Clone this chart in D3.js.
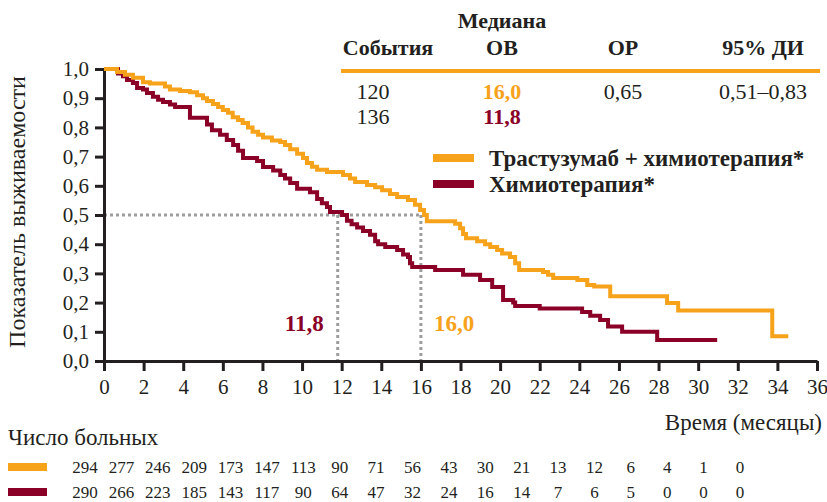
<!DOCTYPE html>
<html>
<head>
<meta charset="utf-8">
<script src="https://cdn.jsdelivr.net/npm/d3@7"></script>
<style>
  body { margin: 0; background: #fff; }
  .axis path, .axis line { stroke: #231f20; stroke-width: 3; }
</style>
</head>
<body>
<svg width="827" height="502"></svg>
<script>
// Kaplan-Meier steps: time (months) -> survival after the step
var timesTrast = [0, 0.66, 1.06, 1.46, 1.97, 2.32, 3.08, 3.33, 3.84, 4.34, 4.70, 5.0, 5.2, 5.5, 5.76, 6.0, 6.26, 6.5, 6.77, 7.0, 7.27, 7.5, 7.78, 8.03, 8.48, 8.9, 9.14, 9.4, 9.75, 10.05, 10.25, 10.5, 10.76, 11.26, 12.07, 12.42, 12.68, 13.28, 13.69, 14.04, 14.44, 14.8, 15.35, 15.7, 15.96, 16.16, 16.3, 17.73, 17.98, 18.13, 18.28, 18.84, 19.24, 19.5, 19.85, 20.1, 20.5, 20.76, 20.96, 22.17, 22.42, 22.68, 23.9, 24.4, 24.75, 25.56, 28.43, 28.99, 33.74, 34.55];
var survTrast  = [1.0, 0.99, 0.98, 0.97, 0.955, 0.95, 0.94, 0.93, 0.925, 0.92, 0.91, 0.90, 0.89, 0.88, 0.87, 0.86, 0.85, 0.835, 0.825, 0.815, 0.80, 0.785, 0.775, 0.765, 0.755, 0.75, 0.74, 0.725, 0.71, 0.695, 0.678, 0.665, 0.655, 0.647, 0.637, 0.625, 0.613, 0.603, 0.595, 0.585, 0.572, 0.562, 0.551, 0.535, 0.517, 0.50, 0.479, 0.47, 0.455, 0.435, 0.42, 0.41, 0.40, 0.39, 0.38, 0.368, 0.356, 0.335, 0.312, 0.305, 0.295, 0.284, 0.277, 0.26, 0.255, 0.222, 0.199, 0.173, 0.085, 0.085];

var timesChemo = [0, 0.71, 0.96, 1.16, 1.46, 1.67, 1.97, 2.17, 2.47, 2.73, 2.98, 3.33, 3.59, 4.34, 5.2, 5.45, 5.86, 6.2, 6.52, 6.77, 7.02, 7.73, 8.03, 8.54, 8.9, 9.14, 9.4, 9.75, 10.4, 10.76, 11.0, 11.26, 11.41, 12.02, 12.27, 12.5, 12.78, 13.08, 13.43, 13.69, 13.84, 14.2, 14.8, 15.1, 15.35, 15.45, 15.56, 16.72, 18.13, 18.99, 19.6, 20.15, 20.66, 20.76, 22.0, 24.14, 24.55, 25.05, 25.45, 26.16, 27.93, 30.96];
var survChemo  = [1.0, 0.985, 0.975, 0.962, 0.952, 0.935, 0.93, 0.918, 0.905, 0.895, 0.887, 0.878, 0.87, 0.833, 0.81, 0.79, 0.775, 0.757, 0.74, 0.72, 0.695, 0.685, 0.664, 0.652, 0.637, 0.625, 0.61, 0.59, 0.578, 0.555, 0.54, 0.527, 0.51, 0.50, 0.48, 0.468, 0.457, 0.445, 0.432, 0.41, 0.40, 0.39, 0.38, 0.365, 0.356, 0.335, 0.322, 0.312, 0.295, 0.277, 0.253, 0.209, 0.20, 0.188, 0.18, 0.168, 0.155, 0.14, 0.118, 0.10, 0.072, 0.072];

var medianTrast = 16.0;
var medianChemo = 11.8;

var xTicks = d3.range(0, 37, 2);
var yTicks = d3.range(0, 11).map(function(d){ return d / 10; });

// number at risk, one value per 2-month tick
var countsTrast = [294, 277, 246, 209, 173, 147, 113, 90, 71, 56, 43, 30, 21, 13, 12, 6, 4, 1, 0];
var countsChemo = [290, 266, 223, 185, 143, 117, 90, 64, 47, 32, 24, 16, 14, 7, 6, 5, 0, 0, 0];

var seriesNames = ['Трастузумаб + химиотерапия*', 'Химиотерапия*'];
var tableHeaders = ['События', 'ОВ', 'ОР', '95% ДИ'];
var tableEvents = ['120', '136'];
var tableMedians = ['16,0', '11,8'];
var tableHR = '0,65';
var tableCI = '0,51–0,83';

var colors = ['#f7a21b', '#8a0026'];
var grey = '#9d9d9d';
var ink = '#231f20';
var serif = '"Liberation Serif", "DejaVu Serif", "Times New Roman", serif';

var svg = d3.select('svg')
    .attr('font-family', serif)
    .attr('fill', ink);

var x = d3.scaleLinear().domain([0, 36]).range([104, 817]);
var y = d3.scaleLinear().domain([0, 1]).range([361, 69]);

var comma = function(d){ return d3.format('.1f')(d).replace('.', ','); };

// all texts go through here so the font is always set
function label(parent, txt, px, py, size, opts) {
    opts = opts || {};
    return parent.append('text')
        .attr('x', px).attr('y', py)
        .attr('font-family', serif)
        .attr('font-size', size)
        .attr('font-weight', opts.bold ? 'bold' : 'normal')
        .attr('text-anchor', opts.anchor || 'start')
        .attr('fill', opts.color || ink)
        .text(txt);
}

// median guide lines
var guides = svg.append('g')
    .attr('stroke', grey)
    .attr('stroke-width', 3)
    .attr('stroke-dasharray', '3,3')
    .attr('fill', 'none');
guides.append('line')
    .attr('x1', x(0)).attr('x2', x(medianTrast))
    .attr('y1', y(0.5)).attr('y2', y(0.5));
[medianChemo, medianTrast].forEach(function(m){
    guides.append('line')
        .attr('x1', x(m)).attr('x2', x(m))
        .attr('y1', y(0.5)).attr('y2', y(0));
});

// axes
var xAxisG = svg.append('g')
    .attr('class', 'axis')
    .attr('transform', 'translate(0,' + y(0) + ')')
    .call(d3.axisBottom(x).tickValues(xTicks).tickSize(10).tickSizeOuter(0).tickPadding(8)
        .tickFormat(d3.format('d')));

var yAxisG = svg.append('g')
    .attr('class', 'axis')
    .attr('transform', 'translate(' + x(0) + ',0)')
    .call(d3.axisLeft(y).tickValues(yTicks).tickSize(9).tickSizeOuter(0).tickPadding(6)
        .tickFormat(comma));

[xAxisG, yAxisG].forEach(function(g){
    g.attr('font-family', serif).attr('font-size', 21);
    g.selectAll('text').attr('font-family', serif).attr('fill', ink);
});

// curves
var line = d3.line()
    .x(function(d){ return x(d[0]); })
    .y(function(d){ return y(d[1]); })
    .curve(d3.curveStepAfter);

var curves = [d3.zip(timesChemo, survChemo), d3.zip(timesTrast, survTrast)];
svg.selectAll('.km')
    .data(curves)
    .enter().append('path')
    .attr('class', 'km')
    .attr('d', line)
    .attr('fill', 'none')
    .attr('stroke', function(d, i){ return colors[1 - i]; })
    .attr('stroke-width', 4);

// median labels
label(svg, tableMedians[1], x(medianChemo) - 14, 331, 23, {bold: true, anchor: 'end', color: colors[1]});
label(svg, tableMedians[0], x(medianTrast) + 13, 331, 23, {bold: true, color: colors[0]});

// axis titles
label(svg, 'Показатель выживаемости', 0, 0, 24, {anchor: 'middle'})
    .attr('transform', 'translate(25,212) rotate(-90)');
label(svg, 'Время (месяцы)', 822, 430, 23, {anchor: 'end'});

// summary table
var colX = [388, 502, 623, 763];
label(svg, 'Медиана', colX[1], 28, 22, {bold: true, anchor: 'middle'});
tableHeaders.forEach(function(h, i){
    label(svg, h, colX[i], 55, 22, {bold: true, anchor: 'middle'});
});
svg.append('line')
    .attr('x1', 341).attr('x2', 820)
    .attr('y1', 71).attr('y2', 71)
    .attr('stroke', colors[0]).attr('stroke-width', 4);

var rowY = [99, 124];
tableEvents.forEach(function(v, i){
    label(svg, v, 373, rowY[i], 22, {anchor: 'middle'});
    label(svg, tableMedians[i], colX[1], rowY[i], 22, {bold: true, anchor: 'middle', color: colors[i]});
});
label(svg, tableHR, colX[2], rowY[0], 22, {anchor: 'middle'});
label(svg, tableCI, colX[3], rowY[0], 22, {anchor: 'middle'});

// legend
seriesNames.forEach(function(name, i){
    svg.append('rect')
        .attr('x', 433).attr('y', 154 + i * 26)
        .attr('width', 41).attr('height', 8)
        .attr('fill', colors[i]);
    label(svg, name, 489, 166 + i * 26, 23, {bold: true});
});

// number at risk
label(svg, 'Число больных', 8, 445, 23);

var riskX = d3.scaleLinear().domain([0, 18]).range([85, 740]);
[countsTrast, countsChemo].forEach(function(row, r){
    var yy = 467 + r * 25;
    svg.append('rect')
        .attr('x', 8).attr('y', yy - 4)
        .attr('width', 39).attr('height', 8)
        .attr('fill', colors[r]);
    row.forEach(function(v, i){
        label(svg, v, riskX(i), yy + 6, 17, {anchor: 'middle'});
    });
});
</script>
</body>
</html>
